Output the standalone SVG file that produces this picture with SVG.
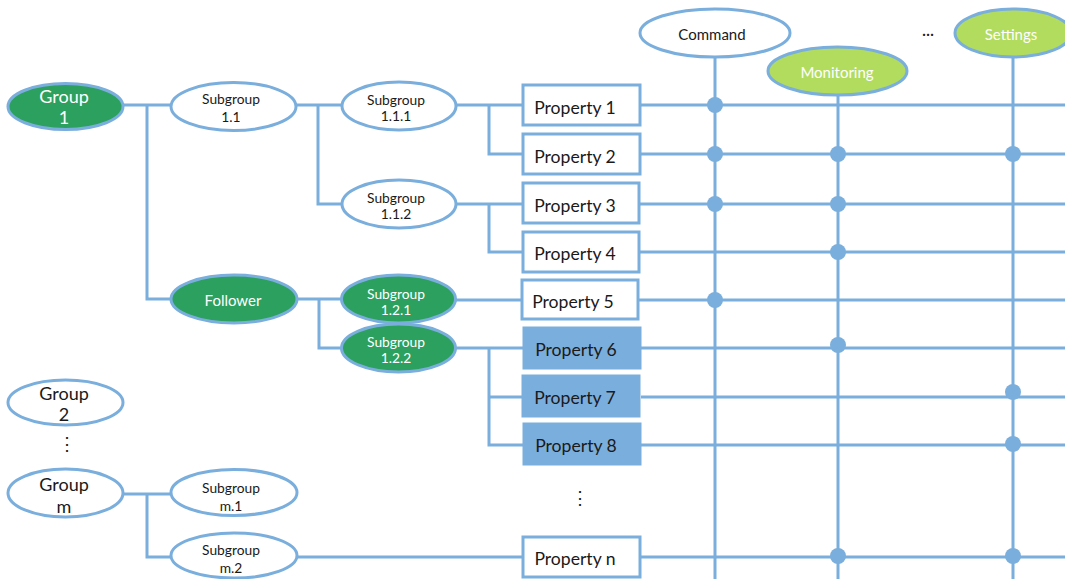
<svg xmlns="http://www.w3.org/2000/svg" width="1065" height="579" viewBox="0 0 1065 579">
<style>
.ln{stroke:#7aaedc;stroke-width:3;fill:none}
.dot{fill:#7aaedc}
.ew{fill:#ffffff;stroke:#7aaedc;stroke-width:3}
.eg{fill:#2ca05e;stroke:#7aaedc;stroke-width:3}
.el{fill:#b2dc5e;stroke:#7aaedc;stroke-width:3}
.pw{fill:#ffffff;stroke:#7aaedc;stroke-width:3}
.pb{fill:#7aaedc;stroke:#7aaedc;stroke-width:3}
text{font-family:Lato,"Open Sans",sans-serif;text-anchor:middle;dominant-baseline:central;fill:#1a1a1a}
.wt{fill:#ffffff}
.g{font-size:18px}
.s{font-size:13.8px}
.p{font-size:17.6px}
.h{font-size:15px}
</style>
<rect width="1065" height="579" fill="#ffffff"/>
<g id="connectors">
<path class="ln" d="M123 105H172M147 105V299H172"/>
<path class="ln" d="M296 105H342M318 105V204H342"/>
<path class="ln" d="M456 105H523M489 105V154H523"/>
<path class="ln" d="M456 204H523M489 204V252H523"/>
<path class="ln" d="M297 299H342M319 299V348H342"/>
<path class="ln" d="M455 300H523"/>
<path class="ln" d="M455 348H523M489 348V445H523M489 397H523"/>
<path class="ln" d="M123 494H172M147 494V557H172"/>
<path class="ln" d="M297 557H523"/>
<path class="ln" d="M715 57V579M838 95V579M1013 57V579"/>
<path class="ln" d="M640 105H1065M640 154H1065M640 204H1065M640 252H1065M639 300H1065M641 348H1065M641 397H1065M641 445H1065M641 557H1065"/>
<g>
<circle class="dot" cx="715" cy="105" r="8"/>
<circle class="dot" cx="715" cy="154" r="8"/>
<circle class="dot" cx="838" cy="154" r="8"/>
<circle class="dot" cx="1013" cy="154" r="8"/>
<circle class="dot" cx="715" cy="204" r="8"/>
<circle class="dot" cx="838" cy="204" r="8"/>
<circle class="dot" cx="838" cy="252" r="8"/>
<circle class="dot" cx="715" cy="300" r="8"/>
<circle class="dot" cx="838" cy="345" r="8"/>
<circle class="dot" cx="1013" cy="392" r="8"/>
<circle class="dot" cx="1013" cy="444" r="8"/>
<circle class="dot" cx="838" cy="556" r="8"/>
<circle class="dot" cx="1013" cy="556" r="8"/>
</g>
</g>
<g id="group1"><ellipse class="eg" cx="65.5" cy="106.5" rx="57.5" ry="23"/><text class="g wt" x="64" y="96">Group</text><text class="g wt" x="64" y="117">1</text></g>
<g id="subgroup11"><ellipse class="ew" cx="233.5" cy="106.5" rx="62.5" ry="24"/><text class="s" x="231" y="98">Subgroup</text><text class="s" x="231" y="116">1.1</text></g>
<g id="subgroup111"><ellipse class="ew" cx="399" cy="106" rx="57" ry="24"/><text class="s" x="396" y="99">Subgroup</text><text class="s" x="396" y="115">1.1.1</text></g>
<g id="subgroup112"><ellipse class="ew" cx="399" cy="204" rx="57" ry="24"/><text class="s" x="396" y="197">Subgroup</text><text class="s" x="396" y="213">1.1.2</text></g>
<g id="follower"><ellipse class="eg" cx="234" cy="299" rx="63" ry="24"/><text class="h wt" x="233" y="300">Follower</text></g>
<g id="subgroup121"><ellipse class="eg" cx="398.5" cy="299" rx="57" ry="24"/><text class="s wt" x="396" y="293">Subgroup</text><text class="s wt" x="396" y="309">1.2.1</text></g>
<g id="subgroup122"><ellipse class="eg" cx="398.5" cy="348" rx="57" ry="24"/><text class="s wt" x="396" y="341">Subgroup</text><text class="s wt" x="396" y="357">1.2.2</text></g>
<g id="group2"><ellipse class="ew" cx="65.5" cy="402.5" rx="57.5" ry="22.5"/><text class="g" x="64" y="393">Group</text><text class="g" x="64" y="414">2</text></g>
<g id="vdots1"><text class="g" x="67" y="443">⋮</text></g>
<g id="groupm"><ellipse class="ew" cx="65.5" cy="493" rx="57.5" ry="24"/><text class="g" x="64" y="484">Group</text><text class="g" x="64" y="506">m</text></g>
<g id="subgroupm1"><ellipse class="ew" cx="234" cy="492.5" rx="63" ry="23"/><text class="s" x="231" y="487">Subgroup</text><text class="s" x="231" y="505">m.1</text></g>
<g id="subgroupm2"><ellipse class="ew" cx="234" cy="555.5" rx="63" ry="22.5"/><text class="s" x="231" y="549">Subgroup</text><text class="s" x="231" y="567">m.2</text></g>
<g id="property1"><rect class="pw" x="523" y="85" width="117" height="40"/><text class="p" x="575" y="107">Property 1</text></g>
<g id="property2"><rect class="pw" x="523" y="134" width="117" height="40"/><text class="p" x="575" y="156">Property 2</text></g>
<g id="property3"><rect class="pw" x="523" y="183" width="116" height="40"/><text class="p" x="575" y="205">Property 3</text></g>
<g id="property4"><rect class="pw" x="523" y="232" width="116" height="40"/><text class="p" x="575" y="253">Property 4</text></g>
<g id="property5"><rect class="pw" x="522" y="280" width="116" height="39"/><text class="p" x="573" y="301">Property 5</text></g>
<g id="property6"><rect class="pb" x="524" y="328" width="116" height="40"/><text class="p" x="576" y="349">Property 6</text></g>
<g id="property7"><rect class="pb" x="523" y="376" width="116" height="40"/><text class="p" x="575" y="397">Property 7</text></g>
<g id="property8"><rect class="pb" x="524" y="424" width="116" height="40"/><text class="p" x="576" y="445">Property 8</text></g>
<g id="vdots2"><text class="p" x="580" y="497">⋮</text></g>
<g id="propertyn"><rect class="pw" x="523" y="537" width="117" height="40"/><text class="p" x="575" y="558">Property n</text></g>
<g id="command"><ellipse class="ew" cx="715" cy="33" rx="75" ry="24"/><text class="h" x="712" y="34">Command</text></g>
<g id="monitoring"><ellipse class="el" cx="837.5" cy="71" rx="69.5" ry="24"/><text class="h wt" x="837" y="72">Monitoring</text></g>
<g id="hdots"><text class="h" x="928" y="30" font-weight="bold">…</text></g>
<g id="settings"><ellipse class="el" cx="1013" cy="33" rx="58" ry="24"/><text class="h wt" x="1011" y="34">Settings</text></g>
</svg>
